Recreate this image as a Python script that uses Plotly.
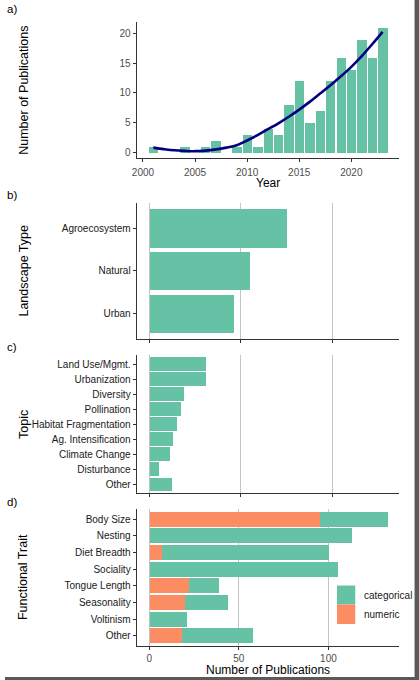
import plotly.graph_objects as go

# a) publications per year
years = list(range(2001, 2024))
pubs = [1, 0, 0, 1, 0, 1, 2, 0, 1, 3, 1, 4, 3, 8, 12, 5, 7, 12, 16, 14, 19, 16, 21]
# smoothed trend
trend = [0.8, 0.55, 0.35, 0.25, 0.2, 0.3, 0.5, 0.8, 1.2, 2.0, 2.9, 3.9, 4.9, 6.0,
         7.2, 8.5, 9.9, 11.3, 12.8, 14.4, 16.2, 18.2, 20.3]

# b) landscape type
landscapes = ['Agroecosystem', 'Natural', 'Urban']
landscape_n = [75, 55, 46]

# c) topic
topics = ['Land Use/Mgmt.', 'Urbanization', 'Diversity', 'Pollination',
          'Habitat Fragmentation', 'Ag. Intensification', 'Climate Change',
          'Disturbance', 'Other']
topic_n = [31, 31, 19, 17, 15, 13, 11, 5, 12]

# d) functional trait
traits = ['Body Size', 'Nesting', 'Diet Breadth', 'Sociality', 'Tongue Length',
          'Seasonality', 'Voltinism', 'Other']
numeric_n = [95, 0, 7, 0, 22, 20, 0, 18]
categorical_n = [38, 113, 93, 105, 17, 24, 21, 40]

GREEN = '#66c2a5'
ORANGE = '#fc8d62'
FONT = 'Liberation Sans, Arial, sans-serif'
W, H = 419, 680


def px(x):
    return x / W


def py(y):
    return 1 - y / H


fig = go.Figure()

fig.add_trace(go.Bar(x=years, y=pubs, width=0.9, marker_color=GREEN,
                     marker_line_width=0, xaxis='x', yaxis='y', showlegend=False))
fig.add_trace(go.Scatter(x=years, y=trend, mode='lines', line=dict(color='#00007f', width=2.6, shape='spline'),
                         xaxis='x', yaxis='y', showlegend=False))

fig.add_trace(go.Bar(y=landscapes, x=landscape_n, orientation='h', width=0.9, marker_color=GREEN,
                     marker_line_width=0, xaxis='x2', yaxis='y2', showlegend=False))

fig.add_trace(go.Bar(y=topics, x=topic_n, orientation='h', width=0.9, marker_color=GREEN,
                     marker_line_width=0, xaxis='x3', yaxis='y3', showlegend=False))

fig.add_trace(go.Bar(y=traits, x=numeric_n, orientation='h', width=0.9, marker_color=ORANGE,
                     marker_line_width=0, xaxis='x4', yaxis='y4', name='numeric', showlegend=False))
fig.add_trace(go.Bar(y=traits, x=categorical_n, orientation='h', width=0.9, marker_color=GREEN,
                     marker_line_width=0, xaxis='x4', yaxis='y4', name='categorical', showlegend=False))

axis_common = dict(showline=True, linecolor='#333', linewidth=1.1, ticks='outside', ticklen=3,
                   tickcolor='#333', tickwidth=1, zeroline=False,
                   tickfont=dict(family=FONT, size=10, color='#4d4d4d'))
cat_common = dict(axis_common, showgrid=False, tickfont=dict(family=FONT, size=10, color='#1a1a1a'))
val_common = dict(axis_common, showgrid=True, gridcolor='#c4c4c4', gridwidth=1,
                  tickvals=[0, 50, 100])

xd = [px(133.3), px(399)]

fig.update_layout(
    width=W, height=H, margin=dict(l=0, r=0, t=0, b=0),
    paper_bgcolor='white', plot_bgcolor='white', barmode='stack', bargap=0,
    font=dict(family=FONT),
    xaxis=dict(axis_common, domain=xd, range=[1999.4, 2024.6], tickvals=[2000, 2005, 2010, 2015, 2020],
               showgrid=False, anchor='y', ticklabelstandoff=2),
    yaxis=dict(axis_common, domain=[py(158.3), py(21.7)], range=[-1.0, 22.0], tickvals=[0, 5, 10, 15, 20],
               showgrid=False, anchor='x'),
    xaxis2=dict(val_common, domain=xd, range=[-6.9, 136.8], showticklabels=False, anchor='y2'),
    yaxis2=dict(cat_common, domain=[py(339), py(202.7)], categoryorder='array', categoryarray=landscapes,
                range=[2.6, -0.6], anchor='x2'),
    xaxis3=dict(val_common, domain=xd, range=[-6.9, 136.8], showticklabels=False, anchor='y3'),
    yaxis3=dict(cat_common, domain=[py(493.3), py(355)], categoryorder='array', categoryarray=topics,
                range=[8.6, -0.6], anchor='x3'),
    xaxis4=dict(val_common, domain=xd, range=[-7.0, 139.5], anchor='y4'),
    yaxis4=dict(cat_common, domain=[py(645.7), py(509)], categoryorder='array', categoryarray=traits,
                range=[7.6, -0.6], anchor='x4'),
)

# titles and panel letters
texts = [
    ('Year', px(266), py(183), 0, 12),
    ('Number of Publications', px(266), py(670), 0, 12),
    ('Number of Publications', px(19), py(90), -90, 12.5),
    ('Landscape Type', px(19), py(270.8), -90, 12.5),
    ('Topic', px(19), py(424.2), -90, 12.5),
    ('Functional Trait', px(19), py(577.3), -90, 12.5),
]
for t, x, y, ang, size in texts:
    fig.add_annotation(text=t, x=x, y=y, xref='paper', yref='paper', showarrow=False, textangle=ang,
                       xanchor='center', yanchor='middle', font=dict(family=FONT, size=size, color='#000'))

for lab, y in [('a)', 9), ('b)', 195), ('c)', 347), ('d)', 502)]:
    fig.add_annotation(text=lab, x=0, y=py(y), xref='paper', yref='paper', showarrow=False,
                       xanchor='left', yanchor='middle', font=dict(family=FONT, size=11.5, color='#000'))

# legend for panel d
for lab, col, y0, y1 in [('categorical', GREEN, 585.5, 604.5), ('numeric', ORANGE, 604.5, 624)]:
    fig.add_shape(type='rect', xref='paper', yref='paper', x0=px(336), x1=px(354.5), y0=py(y1), y1=py(y0),
                  fillcolor=col, line_width=0)
    fig.add_annotation(text=lab, x=px(361), y=py((y0 + y1) / 2), xref='paper', yref='paper', showarrow=False,
                       xanchor='left', yanchor='middle', font=dict(family=FONT, size=10, color='#1a1a1a'))

# dark screenshot border on right and bottom
fig.add_shape(type='rect', xref='paper', yref='paper', x0=px(414.5), x1=1, y0=0, y1=1,
              fillcolor='#5a5a5a', line_width=0, layer='above')
fig.add_shape(type='rect', xref='paper', yref='paper', x0=0, x1=1, y0=0, y1=py(677),
              fillcolor='#5a5a5a', line_width=0, layer='above')

# drop the page's default body margin so the figure sits at the window origin
fig.write_html("out.html", config={'displayModeBar': False},
               post_script="document.body.style.margin='0px';")
